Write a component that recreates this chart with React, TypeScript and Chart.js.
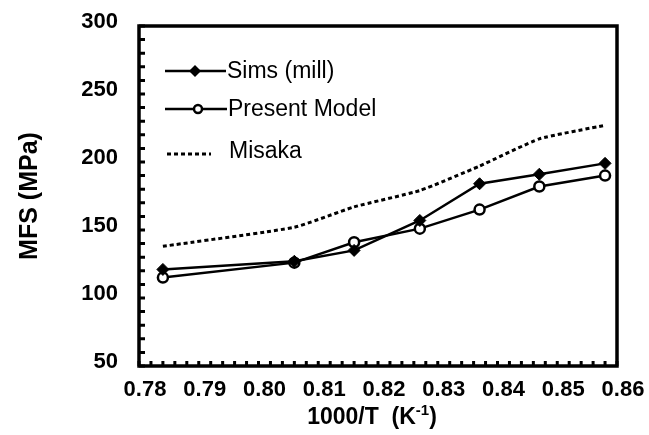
import React, { useEffect, useRef } from "react";
import { Chart, registerables } from "chart.js";

Chart.register(...registerables);

// ---- data ----
const invT = [0.784, 0.806, 0.816, 0.827, 0.837, 0.847, 0.858];
const simsMill = [121, 127, 135, 157, 184, 191, 199];
const presentModel = [115, 126, 141, 151, 165, 182, 190];
const misaka = [138, 152, 167, 179, 197, 217, 227];
const xTickValues = [0.78, 0.79, 0.8, 0.81, 0.82, 0.83, 0.84, 0.85, 0.86];
const yTickValues = [50, 100, 150, 200, 250, 300];
const seriesNames = ["Sims (mill)", "Present Model", "Misaka"];
const yTitle = "MFS (MPa)";
const xTitleMain = "1000/T  (K";
const xTitleSup = "-1";
const xTitleEnd = ")";

const FONT = "'Liberation Sans', Arial, Helvetica, sans-serif";

const framePlugin = {
  id: "frame",
  afterDraw(chart: any) {
    const { ctx, chartArea: a, scales } = chart;
    const xs = scales.x;
    const ys = scales.y;
    ctx.save();
    ctx.strokeStyle = "#000";
    // minor inward ticks
    ctx.lineWidth = 3;
    ctx.beginPath();
    for (let i = 0; i <= 40; i++) {
      const v = 0.78 + i * 0.002;
      const px = xs.getPixelForValue(v);
      ctx.moveTo(px, a.bottom);
      ctx.lineTo(px, a.bottom - 5);
    }
    for (let i = 0; i <= 25; i++) {
      const v = 50 + i * 10;
      const py = ys.getPixelForValue(v);
      ctx.moveTo(a.left, py);
      ctx.lineTo(a.left + 6, py);
    }
    ctx.stroke();
    // frame
    ctx.lineWidth = 3.5;
    ctx.strokeRect(a.left, a.top, a.right - a.left, a.bottom - a.top);

    // legend
    const rows = [71, 109, 151];
    ctx.font = `23px ${FONT}`;
    ctx.fillStyle = "#000";
    ctx.textBaseline = "middle";
    ctx.textAlign = "left";
    // row 1
    ctx.lineWidth = 2.5;
    ctx.setLineDash([]);
    ctx.beginPath();
    ctx.moveTo(165, rows[0]);
    ctx.lineTo(226, rows[0]);
    ctx.stroke();
    ctx.beginPath();
    ctx.moveTo(195, rows[0] - 6);
    ctx.lineTo(201, rows[0]);
    ctx.lineTo(195, rows[0] + 6);
    ctx.lineTo(189, rows[0]);
    ctx.closePath();
    ctx.fill();
    ctx.fillText(seriesNames[0], 227, rows[0] + 1);
    // row 2
    ctx.beginPath();
    ctx.moveTo(165, rows[1]);
    ctx.lineTo(227, rows[1]);
    ctx.stroke();
    ctx.beginPath();
    ctx.arc(198, rows[1], 4, 0, Math.PI * 2);
    ctx.fillStyle = "#fff";
    ctx.fill();
    ctx.stroke();
    ctx.fillStyle = "#000";
    ctx.fillText(seriesNames[1], 228, rows[1] + 1);
    // row 3
    ctx.lineWidth = 3;
    ctx.setLineDash([4, 3]);
    ctx.beginPath();
    ctx.moveTo(167, rows[2] + 3);
    ctx.lineTo(211, rows[2] + 3);
    ctx.stroke();
    ctx.setLineDash([]);
    ctx.fillText(seriesNames[2], 229, rows[2] + 1);

    // y title
    ctx.save();
    ctx.font = `bold 25px ${FONT}`;
    ctx.translate(30, 196);
    ctx.rotate(-Math.PI / 2);
    ctx.textAlign = "center";
    ctx.fillText(yTitle, 0, 0);
    ctx.restore();

    // x title with superscript
    ctx.font = `bold 23px ${FONT}`;
    const w1 = ctx.measureText(xTitleMain).width;
    ctx.font = `bold 15px ${FONT}`;
    const w2 = ctx.measureText(xTitleSup).width;
    ctx.font = `bold 23px ${FONT}`;
    const w3 = ctx.measureText(xTitleEnd).width;
    const total = w1 + w2 + w3;
    const x0 = 372 - total / 2;
    const yb = 418;
    ctx.textAlign = "left";
    ctx.fillText(xTitleMain, x0, yb);
    ctx.font = `bold 15px ${FONT}`;
    ctx.fillText(xTitleSup, x0 + w1, yb - 7);
    ctx.font = `bold 23px ${FONT}`;
    ctx.fillText(xTitleEnd, x0 + w1 + w2, yb);
    ctx.restore();
  },
};

export default function App() {
  const ref = useRef<HTMLCanvasElement | null>(null);
  useEffect(() => {
    document.body.style.margin = "0";
    const canvas = ref.current!;
    const chart = new Chart(canvas, {
      type: "line",
      data: {
        datasets: [
          {
            label: seriesNames[0],
            data: invT.map((x, i) => ({ x, y: simsMill[i] })),
            borderColor: "#000",
            backgroundColor: "#000",
            borderWidth: 2.5,
            pointStyle: "rectRot",
            pointRadius: 6,
            pointBorderWidth: 1,
            tension: 0,
          },
          {
            label: seriesNames[1],
            data: invT.map((x, i) => ({ x, y: presentModel[i] })),
            borderColor: "#000",
            backgroundColor: "#fff",
            borderWidth: 2.5,
            pointStyle: "circle",
            pointRadius: 5,
            pointBorderWidth: 2.5,
            tension: 0,
          },
          {
            label: seriesNames[2],
            data: invT.map((x, i) => ({ x, y: misaka[i] })),
            borderColor: "#000",
            backgroundColor: "#000",
            borderWidth: 3,
            borderDash: [4, 3],
            pointRadius: 0,
            tension: 0.15,
          },
        ],
      },
      options: {
        responsive: false,
        animation: false,
        devicePixelRatio: 1,
        layout: { padding: { top: 26, right: 32, left: 0, bottom: 0 } },
        plugins: {
          legend: { display: false },
          tooltip: { enabled: false },
          title: { display: false },
        },
        scales: {
          x: {
            type: "linear",
            min: 0.78,
            max: 0.86,
            grid: { display: false, drawTicks: false },
            border: { display: false },
            afterBuildTicks: (s: any) => {
              s.ticks = xTickValues.map((v) => ({ value: v }));
            },
            afterFit: (s: any) => {
              s.height = 69;
              s.paddingLeft = 0;
              s.paddingRight = 0;
            },
            ticks: {
              color: "#000",
              font: { family: FONT, size: 22, weight: "bold" },
              padding: 11,
              labelOffset: 6,
              maxRotation: 0,
              autoSkip: false,
              callback: (v: any) => Number(v).toFixed(2),
            },
          },
          y: {
            type: "linear",
            min: 50,
            max: 300,
            grid: { display: false, drawTicks: false },
            border: { display: false },
            afterBuildTicks: (s: any) => {
              s.ticks = yTickValues.map((v) => ({ value: v }));
            },
            afterFit: (s: any) => {
              s.width = 139;
              s.paddingTop = 0;
              s.paddingBottom = 0;
            },
            ticks: {
              color: "#000",
              font: { family: FONT, size: 22, weight: "bold" },
              padding: 21,
              labelOffset: -4,
              callback: (v: any) => String(v),
            },
          },
        },
      },
      plugins: [framePlugin],
    } as any);
    return () => chart.destroy();
  }, []);
  return (
    <div style={{ width: 649, height: 435, background: "#fff" }}>
      <canvas ref={ref} width={649} height={435} style={{ display: "block" }} />
    </div>
  );
}
